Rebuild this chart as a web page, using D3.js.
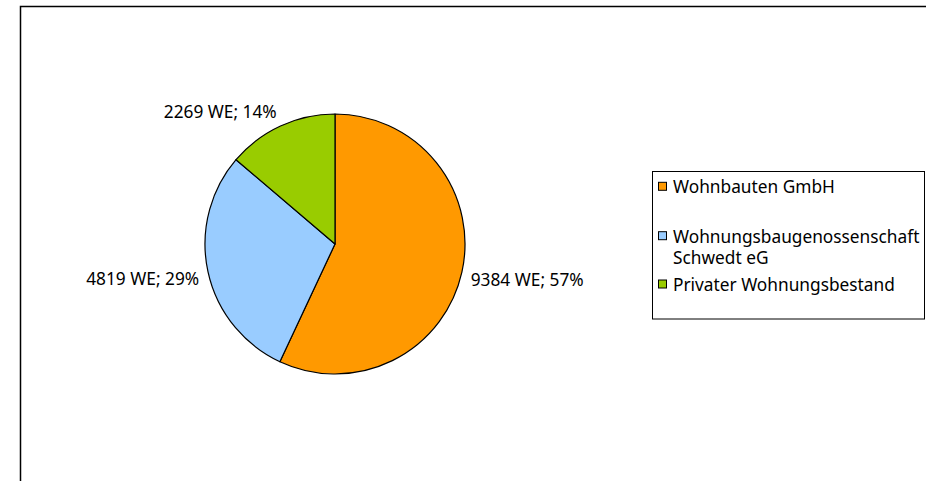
<!DOCTYPE html>
<html>
<head>
<meta charset="utf-8">
<script src="https://cdn.jsdelivr.net/npm/d3@7"></script>
<style>
  body { margin: 0; background: #fff; }
  text { font-family: "Noto Sans", sans-serif; font-size: 17.3px; fill: #000; }
</style>
</head>
<body>
<svg id="chart" width="926" height="481"></svg>
<script>
// data
const categories = ['Wohnbauten GmbH', 'Wohnungsbaugenossenschaft Schwedt eG', 'Privater Wohnungsbestand'];
const legendLines = [['Wohnbauten GmbH'], ['Wohnungsbaugenossenschaft', 'Schwedt eG'], ['Privater Wohnungsbestand']];
const units = [9384, 4819, 2269];
const colors = ['#FF9900', '#99CCFF', '#99CC00'];

let svg = d3.select('#chart');
let width = +svg.attr('width');
let height = +svg.attr('height');

// outer frame (runs off the right and bottom edges)
svg.append('rect')
  .attr('x', 20.5).attr('y', 6.5)
  .attr('width', width).attr('height', height)
  .attr('fill', 'none')
  .attr('stroke', '#000')
  .attr('stroke-width', 1.5);

let cx = 335, cy = 244, radius = 130;
let total = d3.sum(units);

let pie = d3.pie().sort(null).value(d => d)(units);
let arc = d3.arc().innerRadius(0).outerRadius(radius);

let g = svg.append('g').attr('transform', `translate(${cx},${cy})`);

g.selectAll('path')
  .data(pie)
  .enter()
  .append('path')
    .attr('d', arc)
    .attr('fill', (d, i) => colors[i])
    .attr('stroke', '#000')
    .attr('stroke-width', 1.2)
    .attr('stroke-linejoin', 'round');

// data labels: box corner nearest the pie sits on the mid-angle ray
let labelDist = radius + 9;
let capHeight = 11.6;
g.selectAll('text.label')
  .data(pie)
  .enter()
  .append('text')
    .attr('class', 'label')
    .each(function (d, i) {
      let a = (d.startAngle + d.endAngle) / 2;
      let px = Math.sin(a) * labelDist;
      let py = -Math.cos(a) * labelDist;
      let pct = Math.round(d.value / total * 100);
      d3.select(this)
        .attr('x', px)
        .attr('y', py < 0 ? py : py + capHeight)
        .attr('text-anchor', px < 0 ? 'end' : 'start')
        .text(d.value + ' WE; ' + pct + '%');
    });

// legend
let legend = svg.append('g');
legend.append('rect')
  .attr('x', 652.5).attr('y', 171.5)
  .attr('width', 272).attr('height', 147.5)
  .attr('fill', '#fff')
  .attr('stroke', '#000')
  .attr('stroke-width', 1);

let rowBaselines = [193.3, 242.7, 291];
let lineStep = 21.3;

categories.forEach((c, i) => {
  legend.append('rect')
    .attr('x', 658.5).attr('y', rowBaselines[i] - 11)
    .attr('width', 8).attr('height', 8)
    .attr('fill', colors[i])
    .attr('stroke', '#000')
    .attr('stroke-width', 1);
  let t = legend.append('text')
    .attr('x', 673)
    .attr('y', rowBaselines[i]);
  legendLines[i].forEach((line, j) => {
    t.append('tspan')
      .attr('x', 673)
      .attr('dy', j === 0 ? 0 : lineStep)
      .text(line);
  });
});
</script>
</body>
</html>
